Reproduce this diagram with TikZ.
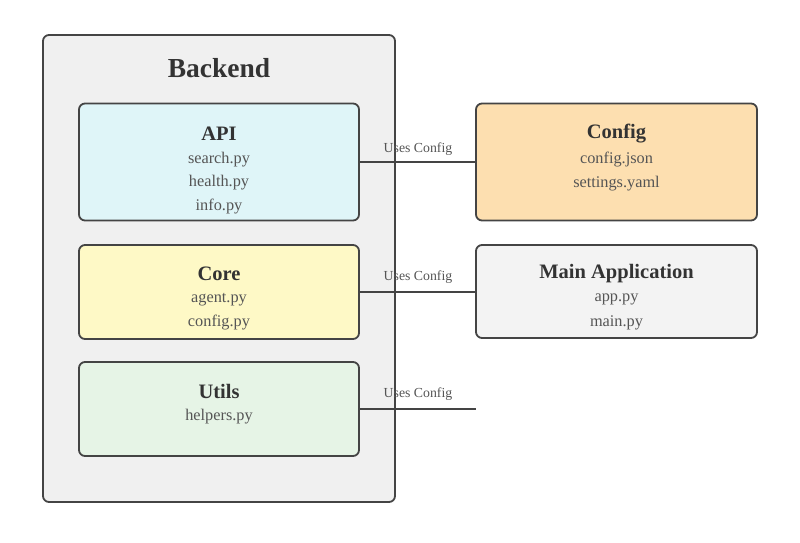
\documentclass[tikz,border=0pt]{standalone}
\usepackage{fontspec}
\setmainfont{Liberation Serif}
\definecolor{edge}{HTML}{444444}
\definecolor{bgback}{HTML}{F0F0F0}
\definecolor{apifill}{HTML}{DFF5F8}
\definecolor{corefill}{HTML}{FEF9C6}
\definecolor{utilfill}{HTML}{E6F4E6}
\definecolor{cfgfill}{HTML}{FDDFB0}
\definecolor{mainfill}{HTML}{F3F3F3}
\definecolor{titlec}{HTML}{333333}
\definecolor{filec}{HTML}{555555}
\tikzset{
  box/.style={draw=edge, line width=1.8pt, rounded corners=6pt, inner sep=0pt},
  ttl/.style={text=titlec, font=\fontsize{20.5}{24}\selectfont\bfseries, inner sep=0pt, anchor=center},
  bigttl/.style={text=titlec, font=\fontsize{27.5}{32}\selectfont\bfseries, inner sep=0pt},
  fil/.style={text=filec, font=\fontsize{16.3}{19}\selectfont, inner sep=0pt},
  lbl/.style={text=filec, font=\fontsize{13.8}{16}\selectfont, inner sep=0pt},
  conn/.style={draw=edge, line width=2pt}
}
\begin{document}
\begin{tikzpicture}[x=1pt,y=-1pt]
\useasboundingbox (0,0) rectangle (800,543);
% Backend container
\node[box, fill=bgback, minimum width=352pt, minimum height=467pt] (backend) at (219,268.5) {};
\node[bigttl] (backendt) at (219,68) {Backend};
% API
\node[box, fill=apifill, minimum width=280pt, minimum height=117pt] (api) at (219,162) {};
\node[ttl] (apit) at (219,134) {API};
\node[fil] (api1) at (219,159.5) {search.py};
\node[fil] (api2) at (219,183) {health.py};
\node[fil] (api3) at (219,206.5) {info.py};
% Core
\node[box, fill=corefill, minimum width=280pt, minimum height=94pt] (core) at (219,292) {};
\node[ttl] (coret) at (219,274) {Core};
\node[fil] (core1) at (219,299.5) {agent.py};
\node[fil] (core2) at (219,323) {config.py};
% Utils
\node[box, fill=utilfill, minimum width=280pt, minimum height=94pt] (utils) at (219,409) {};
\node[ttl] (utilst) at (219,391) {Utils};
\node[fil] (utils1) at (219,416.5) {helpers.py};
% Config
\node[box, fill=cfgfill, minimum width=281pt, minimum height=117pt] (cfg) at (616.5,162) {};
\node[ttl] (cfgt) at (616.5,134) {Config};
\node[fil] (cfg1) at (616.5,159.5) {config.json};
\node[fil] (cfg2) at (616.5,183.5) {settings.yaml};
% Main Application
\node[box, fill=mainfill, minimum width=281pt, minimum height=93pt] (mainapp) at (616.5,291.5) {};
\node[ttl] (maint) at (616.5,274) {Main Application};
\node[fil] (main1) at (616.5,299.5) {app.py};
\node[fil] (main2) at (616.5,323) {main.py};
% Connectors
\coordinate (uend) at (476,409);
\draw[conn] (api.east) -- (cfg.west);
\draw[conn] (core.east) -- (core.east -| mainapp.west);
\draw[conn] (utils.east) -- (uend);
\node[lbl] (l1) at (418,149) {Uses Config};
\node[lbl] (l2) at (418,277) {Uses Config};
\node[lbl] (l3) at (418,394) {Uses Config};
\end{tikzpicture}
\end{document}
